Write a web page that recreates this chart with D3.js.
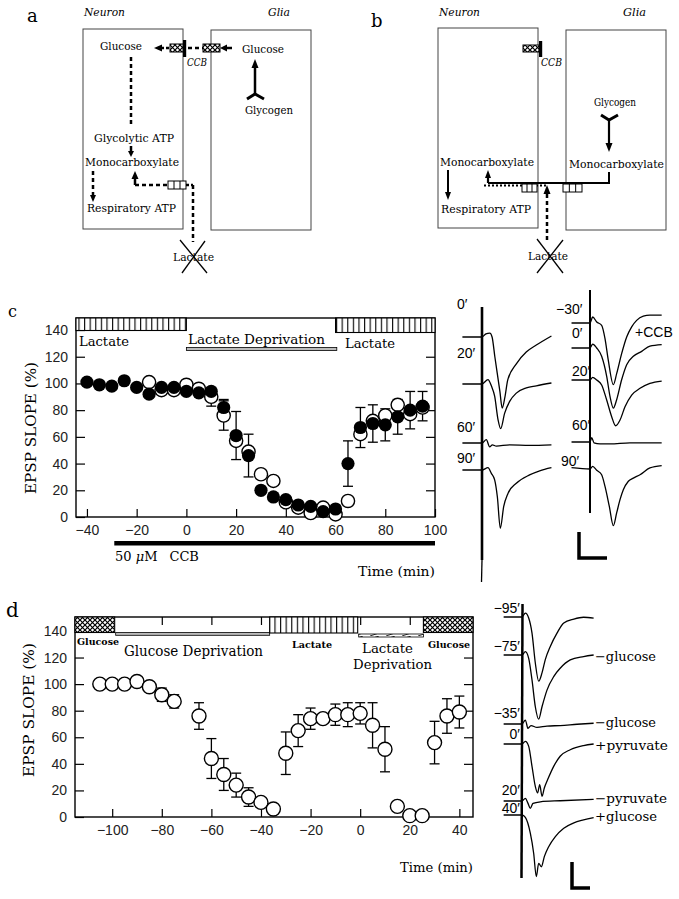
<!DOCTYPE html>
<html><head><meta charset="utf-8">
<script src="https://cdn.jsdelivr.net/npm/d3@7"></script>
<style>body{margin:0;background:#fff}svg{display:block}</style>
</head><body>
<svg id="fig" width="679" height="899"></svg>
<script>
// ---------------- DATA ----------------
const yTicks = [0, 20, 40, 60, 80, 100, 120, 140];
const rightTicks = [20, 40, 60, 80, 100, 120];
const xTicksC = [-40, -20, 0, 20, 40, 60, 80, 100];
const xTicksD = [-100, -80, -60, -40, -20, 0, 20, 40];

// panel c: EPSP slope (%) vs time (min)
const timeC = [-40,-35,-30,-25,-20,-15,-10,-5,0,5,10,15,20,25,30,35,40,45,50,55,60,65,70,75,80,85,90,95];
const filledC = [101,99,98,102,97,92,97,97,94,93,94,82,61,46,20,15,13,9,8,4,6,40,67,70,69,75,80,83];
const filledErrC = [0,0,0,0,0,0,0,0,0,0,0,6,18,16,0,0,0,0,0,0,0,17,15,14,12,13,14,11];
const openC = [null,null,null,null,null,101,95,95,99,96,90,76,57,49,32,27,11,7,3,7,2,12,62,72,76,84,77,82];
const openErrC = [0,0,0,0,0,3,3,3,0,0,7,11,0,0,0,0,0,0,0,0,0,0,0,0,0,0,0,0];
const conditionsC = [
  {label: "Lactate", from: -44.4, to: 0, kind: "lactate"},
  {label: "Lactate Deprivation", from: 0, to: 60.5, kind: "deprivation"},
  {label: "Lactate", from: 60, to: 100, kind: "lactate"}
];
const drugC = {label: "CCB", conc: "50", from: -29, to: 100};

// panel d
const timeD = [-105,-100,-95,-90,-85,-80,-75,-65,-60,-55,-50,-45,-40,-35,-30,-25,-20,-15,-10,-5,0,5,10,15,20,25,30,35,40];
const valuesD = [100,100,100,102,98,92,87,76,44,32,24,15,11,6,48,65,74,74,77,77,78,69,51,8,1,1,56,76,79];
const errD = [0,0,0,0,0,5,5,10,15,12,9,7,0,0,16,12,8,0,8,9,8,17,17,0,0,0,16,13,12];
const conditionsD = [
  {label: "Glucose", from: -115, to: -99, kind: "glucose"},
  {label: "Glucose Deprivation", from: -99, to: -36.5, kind: "deprivation"},
  {label: "Lactate", from: -36.5, to: -1, kind: "lactate"},
  {label: "Lactate Deprivation", from: -1, to: 25.5, kind: "deprivation2"},
  {label: "Glucose", from: 25.5, to: 45.5, kind: "glucose"}
];

// sample EPSP traces: [time (ms after stimulus), voltage (mV)]
const tracesCLeft = [
  {label: "0′",  pts: [[-3.5,0],[0,0],[0.7,0.12],[1.4,0.15],[1.8,0],[2.3,-0.77],[3.2,-2.1],[3.6,-2.73],[4.1,-2.3],[4.6,-1.65],[6.1,-1.04],[7.9,-0.58],[9.7,-0.31],[12.4,0.04]]},
  {label: "20′", pts: [[-3.5,0],[0,0],[1.07,0.17],[1.67,-0.07],[2.26,-0.47],[2.86,-1.37],[3.33,-1.72],[4.05,-1.12],[4.94,-0.67],[6.13,-0.35],[7.92,-0.15],[9.7,-0.07],[12.4,0.04]]},
  {label: "60′", pts: [[-3.5,0],[0,0],[0.77,0.13],[1.37,-0.15],[1.85,-0.07],[2.56,-0.12],[4.94,-0.07],[8.5,-0.09],[12.4,-0.07]]},
  {label: "90′", pts: [[-3.5,0],[0,0],[1.07,0.09],[1.67,-0.13],[2.26,-0.38],[2.74,-1.03],[3.27,-2.24],[3.87,-1.41],[4.64,-0.9],[6.13,-0.51],[8.5,-0.19],[10.3,-0.03],[12.4,0.09]]}
];
const tracesCRight = [
  {label: "−30′", pts: [[-3.3,0],[0,0],[0.48,0.23],[1.2,0.04],[2.08,-0.09],[2.68,-0.6],[3.27,-1.44],[4.17,-2.37],[4.76,-1.95],[5.65,-1.18],[6.55,-0.54],[7.44,-0.15],[8.33,0.1],[9.52,0.26],[10.7,0.3],[12.8,0.3]]},
  {label: "0′",   pts: [[-3.3,0],[0,0],[0.48,0.15],[1.2,0],[2.08,-0.32],[2.98,-1.09],[3.57,-1.86],[4.17,-2.31],[4.76,-1.99],[5.65,-1.22],[6.55,-0.64],[7.74,-0.32],[9.23,-0.13],[10.7,0.07],[12.8,0.13]]},
  {label: "20′",  pts: [[-3.3,0],[0,0],[0.48,0.1],[1.2,0],[2.08,-0.19],[2.98,-0.77],[3.87,-1.41],[4.58,-1.76],[5.36,-1.54],[6.25,-1.03],[7.44,-0.58],[8.93,-0.32],[10.7,-0.13],[12.8,-0.04]]},
  {label: "60′",  pts: [[-3.3,0],[0,0],[0.3,0.17],[0.71,-0.03],[1.79,-0.07],[3.57,-0.07],[7.14,-0.03],[12.8,-0.03]]},
  {label: "90′",  pts: [[-3.3,0.05],[0,0],[0.48,0.1],[1.2,-0.05],[2.08,-0.22],[2.68,-0.67],[3.45,-1.44],[4.17,-2.18],[4.76,-1.69],[5.36,-1.18],[5.95,-0.8],[6.85,-0.47],[7.74,-0.35],[8.93,-0.22],[10.7,0.04],[12.8,0.13]]}
];
const tracesD = [
  {label: "−95′", cond: "",          pts: [[-5.1,0],[0,0],[0.93,0.15],[1.86,-0.04],[2.78,-0.62],[3.7,-1.77],[4.64,-2.47],[5.56,-2.15],[6.47,-1.64],[7.86,-1.13],[9.72,-0.62],[11.6,-0.23],[14.4,-0.08],[17.1,-0.01],[19.9,-0.04]]},
  {label: "−75′", cond: "−glucose",  pts: [[-5.1,0],[0,0],[0.93,0.13],[1.86,-0.13],[2.78,-0.96],[3.7,-1.99],[4.64,-2.47],[5.56,-1.99],[6.94,-1.35],[8.8,-0.83],[10.6,-0.51],[13.4,-0.19],[17.1,-0.06],[19.9,0]]},
  {label: "−35′", cond: "−glucose",  pts: [[-5.1,0],[0,0],[0.93,0.15],[1.67,-0.17],[2.5,-0.06],[4.17,-0.13],[6.94,-0.08],[10.6,-0.06],[15.3,-0.01],[19.9,0.03]]},
  {label: "0′",   cond: "+pyruvate", pts: [[-5.1,0],[0,0],[0.93,0.1],[1.86,-0.09],[2.78,-0.86],[3.7,-1.63],[4.35,-1.88],[4.91,-1.56],[5.56,-2.01],[6.2,-1.69],[7.13,-1.37],[8.8,-0.86],[10.6,-0.47],[13.4,-0.22],[17.1,-0.06],[19.9,0]]},
  {label: "20′",  cond: "−pyruvate", pts: [[-5.1,0],[0,0],[0.93,0.1],[1.67,-0.09],[2.31,-0.28],[3.06,-0.09],[5.09,-0.03],[10.6,0.01],[19.9,0.06]]},
  {label: "40′",  cond: "+glucose",  pts: [[-5.1,0],[0,0],[0.93,-0.09],[2.31,-0.7],[3.24,-1.47],[3.98,-2.37],[4.63,-1.86],[5.37,-1.99],[6.2,-1.6],[7.41,-1.22],[9.26,-0.83],[11.6,-0.51],[14.4,-0.3],[17.1,-0.19],[19.9,-0.1]]}
];
const scaleBar = {ms: 5, mV: 1};

// ---------------- DRAWING ----------------
const SERIF = "'DejaVu Serif', 'Liberation Serif', serif";
const SANS = "'Liberation Sans', Arial, sans-serif";
const svg = d3.select("#fig");
svg.append("rect").attr("width", 679).attr("height", 899).attr("fill", "#fff");
const defs = svg.append("defs");
const vh = defs.append("pattern").attr("id", "vhatch").attr("patternUnits", "userSpaceOnUse").attr("width", 5.6).attr("height", 40);
vh.append("rect").attr("width", 5.6).attr("height", 40).attr("fill", "#fff");
vh.append("line").attr("x1", 0.6).attr("x2", 0.6).attr("y1", 0).attr("y2", 40).attr("stroke", "#000").attr("stroke-width", 1.1);
const xh = defs.append("pattern").attr("id", "xhatch").attr("patternUnits", "userSpaceOnUse").attr("width", 5).attr("height", 5);
xh.append("rect").attr("width", 5).attr("height", 5).attr("fill", "#fff");
xh.append("path").attr("d", "M-1,-1L6,6M6,-1L-1,6").attr("stroke", "#000").attr("stroke-width", 1.2);
const dh = defs.append("pattern").attr("id", "dhatch").attr("patternUnits", "userSpaceOnUse").attr("width", 16).attr("height", 3);
dh.append("rect").attr("width", 16).attr("height", 3).attr("fill", "#fff");
dh.append("line").attr("x1", 2).attr("y1", 3).attr("x2", 11).attr("y2", 0).attr("stroke", "#000").attr("stroke-width", 0.8);

function txt(g, x, y, s, o = {}) {
  const t = g.append("text").attr("x", x).attr("y", y).text(s)
    .attr("font-family", o.family || SERIF).attr("font-size", o.size || 11).attr("fill", o.fill || "#000");
  if (o.anchor) t.attr("text-anchor", o.anchor);
  if (o.italic) t.attr("font-style", "italic");
  if (o.bold) t.attr("font-weight", "bold");
  if (o.len) t.attr("textLength", o.len).attr("lengthAdjust", "spacingAndGlyphs");
  return t;
}
function line(g, x1, y1, x2, y2, w = 1, dash = null, col = "#000") {
  const l = g.append("line").attr("x1", x1).attr("y1", y1).attr("x2", x2).attr("y2", y2)
    .attr("stroke", col).attr("stroke-width", w);
  if (dash) l.attr("stroke-dasharray", dash);
  return l;
}
function head(g, x, y, dir, L = 8, w = 4) {
  let p;
  if (dir === "up") p = [[x, y], [x - w, y + L], [x + w, y + L]];
  if (dir === "down") p = [[x, y], [x - w, y - L], [x + w, y - L]];
  if (dir === "left") p = [[x, y], [x + L, y - w], [x + L, y + w]];
  if (dir === "right") p = [[x, y], [x - L, y - w], [x - L, y + w]];
  g.append("path").attr("d", "M" + p.join("L") + "Z").attr("fill", "#000");
}
function transporter(g, x, y, w, h, kind) {
  if (kind === "x") {
    g.append("rect").attr("x", x).attr("y", y).attr("width", w).attr("height", h).attr("fill", "url(#xhatch)").attr("stroke", "#000").attr("stroke-width", 1);
  } else {
    g.append("rect").attr("x", x).attr("y", y).attr("width", w).attr("height", h).attr("fill", "#fff").attr("stroke", "#000").attr("stroke-width", 1);
    for (let i = 1; i < 3; i++) line(g, x + w * i / 3, y, x + w * i / 3, y + h, 1);
  }
}
const DASH = "4 3";

// ---------- Panel a ----------
const A = svg.append("g");
txt(A, 27, 22, "a", {size: 18, family: SERIF});
txt(A, 84, 16, "Neuron", {italic: true, size: 11, len: 41});
txt(A, 268, 16, "Glia", {italic: true, size: 11, len: 22});
A.append("rect").attr("x", 83).attr("y", 29).attr("width", 100).attr("height", 200).attr("fill", "none").attr("stroke", "#444").attr("stroke-width", 1);
A.append("rect").attr("x", 211).attr("y", 30).attr("width", 100).attr("height", 200).attr("fill", "none").attr("stroke", "#444").attr("stroke-width", 1);
txt(A, 100, 50, "Glucose", {len: 42});
txt(A, 242, 53, "Glucose", {len: 42});
head(A, 154, 48, "left", 8, 3.5);
line(A, 161, 48, 170, 48, 2.5, "3 2");
transporter(A, 170, 44, 13, 8, "x");
A.append("rect").attr("x", 183).attr("y", 40).attr("width", 3.2).attr("height", 17).attr("fill", "#000");
line(A, 188, 48, 203, 48, 2.5, DASH);
transporter(A, 203, 44, 17, 8, "x");
head(A, 220, 48, "left", 7, 3.5);
line(A, 226, 48, 232, 48, 2.5);
txt(A, 187, 66, "CCB", {italic: true, len: 20});
line(A, 255, 95, 255, 67, 2.5);
head(A, 255, 59, "up", 9, 3.5);
A.append("path").attr("d", "M247,99L255,94L264,99").attr("fill", "none").attr("stroke", "#000").attr("stroke-width", 3);
txt(A, 245, 114, "Glycogen", {len: 48});
line(A, 131, 57, 131, 125, 2.5, DASH);
txt(A, 94, 142, "Glycolytic ATP", {len: 80});
line(A, 131, 146, 131, 151, 2.5);
head(A, 131, 157, "down", 6, 3);
txt(A, 85, 166, "Monocarboxylate", {len: 94});
line(A, 93, 171, 93, 195, 2.5, DASH);
head(A, 93, 202, "down", 7, 3);
txt(A, 87, 212, "Respiratory ATP", {len: 89});
line(A, 135, 185, 135, 178, 2.5);
head(A, 135, 171, "up", 8, 3.5);
line(A, 135, 185, 168, 185, 2.5, DASH);
transporter(A, 168, 181, 18, 8, "o");
line(A, 186, 185, 193, 185, 2.5, "3 2");
line(A, 193, 185, 193, 242, 2.5, DASH);
txt(A, 173, 261, "Lactate", {len: 41});
line(A, 180, 240, 207, 273, 1.3);
line(A, 205, 241, 182, 273, 1.3);

// ---------- Panel b ----------
const B = svg.append("g");
txt(B, 371, 27, "b", {size: 18, family: SERIF});
txt(B, 439, 16, "Neuron", {italic: true, size: 11, len: 41});
txt(B, 623, 16, "Glia", {italic: true, size: 11, len: 23});
B.append("rect").attr("x", 438).attr("y", 28).attr("width", 100).attr("height", 200).attr("fill", "none").attr("stroke", "#444").attr("stroke-width", 1);
B.append("rect").attr("x", 566).attr("y", 30).attr("width", 100).attr("height", 200).attr("fill", "none").attr("stroke", "#444").attr("stroke-width", 1);
transporter(B, 523, 45, 16, 7, "x");
B.append("rect").attr("x", 539).attr("y", 41).attr("width", 3.2).attr("height", 16).attr("fill", "#000");
txt(B, 541, 66, "CCB", {italic: true, len: 21});
txt(B, 594, 106, "Glycogen", {size: 10.5, len: 42});
B.append("path").attr("d", "M601,115L609,120L618,115").attr("fill", "none").attr("stroke", "#000").attr("stroke-width", 3);
line(B, 609, 120, 609, 144, 2.2);
head(B, 609, 152, "down", 9, 3.5);
txt(B, 569, 168, "Monocarboxylate", {len: 95});
txt(B, 440, 166, "Monocarboxylate", {len: 94});
B.append("path").attr("d", "M609,172L609,183L488,183").attr("fill", "none").attr("stroke", "#000").attr("stroke-width", 2);
line(B, 488, 183, 488, 177, 2.2);
head(B, 488, 170, "up", 8, 3);
line(B, 484, 185.5, 547, 185.5, 2, "2 2");
transporter(B, 522, 184, 15, 8, "o");
transporter(B, 563, 184, 19, 8, "o");
line(B, 547, 240, 547, 193, 2.5, DASH);
head(B, 547, 185, "up", 9, 3.5);
line(B, 448, 170, 448, 192, 2);
head(B, 448, 200, "down", 8, 3);
txt(B, 441, 213, "Respiratory ATP", {len: 90});
txt(B, 528, 260, "Lactate", {len: 40});
line(B, 537, 239, 563, 273, 1.3);
line(B, 563, 240, 537, 273, 1.3);

// ---------- chart helper ----------
function chart(cfg) {
  const {x, y, xTicks, L, R, T, Bm, topTicks} = cfg;
  const g = svg.append("g");
  g.append("g").attr("transform", `translate(0,${Bm})`)
    .call(d3.axisBottom(x).tickValues(xTicks).tickSizeInner(-8).tickSizeOuter(0).tickPadding(8));
  g.append("g").attr("transform", `translate(${L},0)`)
    .call(d3.axisLeft(y).tickValues(yTicks).tickSizeInner(-9).tickSizeOuter(0).tickPadding(8));
  g.append("g").attr("transform", `translate(${R},0)`)
    .call(d3.axisRight(y).tickValues(rightTicks).tickSizeInner(-9).tickSizeOuter(0).tickFormat(""));
  if (topTicks) g.append("g").attr("transform", `translate(0,${T})`)
    .call(d3.axisTop(x).tickValues(xTicks).tickSizeInner(-8).tickSizeOuter(0).tickFormat(""));
  g.selectAll(".domain").remove();
  g.selectAll(".tick line").attr("stroke", "#000").attr("stroke-width", 1.2);
  g.selectAll(".tick text").attr("font-family", SANS).attr("font-size", 14).attr("fill", "#222");
  g.append("rect").attr("x", L).attr("y", T).attr("width", R - L).attr("height", Bm - T)
    .attr("fill", "none").attr("stroke", "#000").attr("stroke-width", 1.4);
  return g;
}
function errbars(g, x, y, ts, vs, es) {
  ts.forEach((t, i) => {
    if (vs[i] == null || !es[i]) return;
    const cx = x(t), y1 = y(vs[i] + es[i]), y2 = y(vs[i] - es[i]);
    line(g, cx, y1, cx, y2, 1.3);
    line(g, cx - 5, y1, cx + 5, y1, 1.3);
    line(g, cx - 5, y2, cx + 5, y2, 1.3);
  });
}

// ---------- Panel c ----------
const xC = d3.scaleLinear().domain([-44.4, 100]).range([76, 435]);
const yC = d3.scaleLinear().domain([0, 149]).range([517, 318]);
const C = chart({x: xC, y: yC, xTicks: xTicksC, L: 76, R: 435, T: 318, Bm: 517, topTicks: false});
txt(svg, 8, 317, "c", {size: 16});
conditionsC.forEach((c, i) => {
  if (c.kind === "lactate") {
    C.append("rect").attr("x", xC(c.from)).attr("y", 318).attr("width", xC(c.to) - xC(c.from))
      .attr("height", i === 0 ? 12.5 : 14.5).attr("fill", "url(#vhatch)").attr("stroke", "#000").attr("stroke-width", 1.1);
  } else {
    C.append("rect").attr("x", xC(c.from)).attr("y", 347.5).attr("width", xC(c.to) - xC(c.from))
      .attr("height", 3).attr("fill", "#bbb").attr("stroke", "#000").attr("stroke-width", 0.8);
  }
});
txt(C, 79, 346, conditionsC[0].label, {size: 13.5, len: 50});
txt(C, 188, 344, conditionsC[1].label, {size: 13.5, len: 137});
txt(C, 345, 348, conditionsC[2].label, {size: 13.5, len: 50});
C.append("rect").attr("x", xC(drugC.from)).attr("y", 541).attr("width", xC(drugC.to) - xC(drugC.from)).attr("height", 4.5).attr("fill", "#000");
const dl = C.append("text").attr("x", 115).attr("y", 561).attr("font-family", SERIF).attr("font-size", 13);
dl.append("tspan").text(drugC.conc + " ");
dl.append("tspan").attr("font-style", "italic").text("μ");
dl.append("tspan").text("M");
dl.append("tspan").attr("dx", 12).text(drugC.label);
txt(C, 358, 576, "Time (min)", {size: 13.5, len: 77});
txt(C, 0, 0, "EPSP SLOPE (%)", {size: 15, len: 132, anchor: "middle"}).attr("transform", "translate(36,428) rotate(-90)");
errbars(C, xC, yC, timeC, openC, openErrC);
errbars(C, xC, yC, timeC, filledC, filledErrC);
C.append("g").selectAll("circle").data(timeC.map((t, i) => [t, openC[i]]).filter(d => d[1] != null))
  .join("circle").attr("cx", d => xC(d[0])).attr("cy", d => yC(d[1])).attr("r", 6.6)
  .attr("fill", "#fff").attr("stroke", "#000").attr("stroke-width", 1.4);
C.append("g").selectAll("circle").data(timeC.map((t, i) => [t, filledC[i]]))
  .join("circle").attr("cx", d => xC(d[0])).attr("cy", d => yC(d[1])).attr("r", 6.6).attr("fill", "#000");

// ---------- Panel d ----------
const xD = d3.scaleLinear().domain([-115, 45.5]).range([75, 473]);
const yD = d3.scaleLinear().domain([0, 150.5]).range([817, 617]);
const D = chart({x: xD, y: yD, xTicks: xTicksD, L: 75, R: 473, T: 617, Bm: 817, topTicks: true});
txt(svg, 6, 617, "d", {size: 20});
conditionsD.forEach(c => {
  const x0 = xD(c.from), w = xD(c.to) - xD(c.from);
  if (c.kind === "glucose") D.append("rect").attr("x", x0).attr("y", 617).attr("width", w).attr("height", 15.5).attr("fill", "url(#xhatch)").attr("stroke", "#000").attr("stroke-width", 1.1);
  if (c.kind === "lactate") D.append("rect").attr("x", x0).attr("y", 617).attr("width", w).attr("height", 16).attr("fill", "url(#vhatch)").attr("stroke", "#000").attr("stroke-width", 1.1);
  if (c.kind === "deprivation") D.append("rect").attr("x", x0 + 1).attr("y", 632.5).attr("width", w - 1).attr("height", 2.8).attr("fill", "#bbb").attr("stroke", "#000").attr("stroke-width", 0.8);
  if (c.kind === "deprivation2") D.append("rect").attr("x", x0 + 1).attr("y", 634).attr("width", w - 1).attr("height", 3).attr("fill", "url(#dhatch)").attr("stroke", "#000").attr("stroke-width", 0.8);
});
txt(D, 77, 645, conditionsD[0].label, {size: 10, bold: true, len: 42});
txt(D, 124, 656, conditionsD[1].label, {size: 15, len: 139});
txt(D, 292, 648, conditionsD[2].label, {size: 10, bold: true, len: 40});
txt(D, 362, 653, "Lactate", {size: 13.5, len: 51});
txt(D, 353, 669, "Deprivation", {size: 13.5, len: 79});
txt(D, 428, 648, conditionsD[4].label, {size: 10, bold: true, len: 42});
txt(D, 400, 872, "Time (min)", {size: 13.5, len: 73});
txt(D, 0, 0, "EPSP SLOPE (%)", {size: 15, len: 134, anchor: "middle"}).attr("transform", "translate(34,710) rotate(-90)");
errbars(D, xD, yD, timeD, valuesD, errD);
D.append("g").selectAll("circle").data(timeD.map((t, i) => [t, valuesD[i]]))
  .join("circle").attr("cx", d => xD(d[0])).attr("cy", d => yD(d[1])).attr("r", 7)
  .attr("fill", "#fff").attr("stroke", "#000").attr("stroke-width", 1.4);

// ---------- traces ----------
function traceGroup(traces, bases, x0, pxMs, pxMv, lw) {
  const g = svg.append("g");
  const tx = d3.scaleLinear().domain([0, 1]).range([x0, x0 + pxMs]);
  traces.forEach((tr, i) => {
    const vy = d3.scaleLinear().domain([0, 1]).range([bases[i], bases[i] - pxMv]);
    g.append("path").attr("d", d3.line().x(d => tx(d[0])).y(d => vy(d[1])).curve(d3.curveMonotoneX)(tr.pts))
      .attr("fill", "none").attr("stroke", "#000").attr("stroke-width", lw);
  });
  return {g, tx};
}
const cl = traceGroup(tracesCLeft, [337, 384, 443, 470], 482, 5.6, 26, 1.3);
line(cl.g, 482, 307, 482, 560, 2.6);
line(cl.g, 482, 560, 481.5, 582, 1.3);
[309, 358, 432, 463].forEach((y, i) => txt(cl.g, 457, y, tracesCLeft[i].label, {family: SANS, size: 14}));
const cr = traceGroup(tracesCRight, [323, 348, 380, 442, 469], 590, 5.6, 26, 1.3);
line(cr.g, 590, 290, 590, 513, 2);
[[556, 314], [572, 338], [572, 376], [572, 430], [561, 466]].forEach((p, i) => txt(cr.g, p[0], p[1], tracesCRight[i].label, {family: SANS, size: 14}));
txt(cr.g, 635, 337, "+" + drugC.label, {family: SANS, size: 14});
const sbC = d3.scaleLinear().domain([0, 1]).range([0, 5.6]);
cr.g.append("path").attr("d", `M579,532L579,${532 + 26 * scaleBar.mV}L${579 + sbC(scaleBar.ms)},${532 + 26 * scaleBar.mV}`)
  .attr("fill", "none").attr("stroke", "#000").attr("stroke-width", 3.5);
const dTr = traceGroup(tracesD, [617, 655, 724, 744, 801, 815], 522, 3.6, 26, 1.3);
line(dTr.g, 522.5, 604, 521.5, 878, 2.5);
[613, 651, 718, 739, 795, 813].forEach((y, i) => txt(dTr.g, 520, y, tracesD[i].label, {family: SANS, size: 14, anchor: "end"}));
const condLen = {"−glucose": 61, "+pyruvate": 73, "−pyruvate": 72, "+glucose": 62};
[null, 661, 727, 750, 803, 821].forEach((y, i) => {
  if (y == null || !tracesD[i].cond) return;
  txt(dTr.g, 595, y, tracesD[i].cond, {size: 13, len: condLen[tracesD[i].cond]});
});
const sbD = d3.scaleLinear().domain([0, 1]).range([0, 3.6]);
dTr.g.append("path").attr("d", `M572,862L572,${862 + 26 * scaleBar.mV}L${572 + sbD(scaleBar.ms)},${862 + 26 * scaleBar.mV}`)
  .attr("fill", "none").attr("stroke", "#000").attr("stroke-width", 3.5);
</script>
</body></html>
